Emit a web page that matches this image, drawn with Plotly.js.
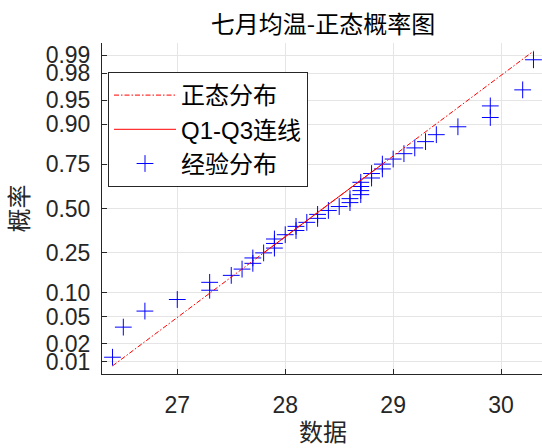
<!DOCTYPE html>
<html>
<head>
<meta charset="utf-8">
<script src="https://cdn.plot.ly/plotly-3.0.1.min.js"></script>
<style>
html,body{margin:0;padding:0;overflow:hidden;background:#fff;}
#chart{width:560px;height:448px;}
</style>
</head>
<body>
<div id="chart"></div>
<script>
// July mean temperatures (sample, sorted)
const tempData = [26.4, 26.5, 26.7, 27.0, 27.3, 27.3, 27.5, 27.6, 27.7, 27.7,
  27.8, 27.9, 27.9, 27.9, 28.0, 28.1, 28.1, 28.2, 28.3, 28.3,
  28.4, 28.5, 28.6, 28.6, 28.7, 28.7, 28.7, 28.7, 28.8, 28.8,
  28.9, 28.9, 29.0, 29.1, 29.2, 29.3, 29.4, 29.6, 29.9, 29.9,
  30.2, 30.3];
const probTicks = [0.01, 0.02, 0.05, 0.10, 0.25, 0.50, 0.75, 0.90, 0.95, 0.98, 0.99];
const probTickLabels = ['0.01', '0.02', '0.05', '0.10', '0.25', '0.50', '0.75', '0.90', '0.95', '0.98', '0.99'];
const xTicks = [27, 28, 29, 30];
const seriesNames = ['正态分布', 'Q1-Q3连线', '经验分布'];

// inverse standard normal CDF (probability axis transform)
function norminv(p){
  const a=[-3.969683028665376e+01,2.209460984245205e+02,-2.759285104469687e+02,1.383577518672690e+02,-3.066479806614716e+01,2.506628277459239e+00];
  const b=[-5.447609879822406e+01,1.615858368580409e+02,-1.556989798598866e+02,6.680131188771972e+01,-1.328068155288572e+01];
  const c=[-7.784894002430293e-03,-3.223964580411365e-01,-2.400758277161838e+00,-2.549732539343734e+00,4.374664141464968e+00,2.938163982698783e+00];
  const d=[7.784695709041462e-03,3.224671290700398e-01,2.445134137142996e+00,3.754408661907416e+00];
  const pl=0.02425, ph=1-pl;
  if(p<pl){const q=Math.sqrt(-2*Math.log(p));return (((((c[0]*q+c[1])*q+c[2])*q+c[3])*q+c[4])*q+c[5])/((((d[0]*q+d[1])*q+d[2])*q+d[3])*q+1);}
  if(p<=ph){const q=p-0.5,r=q*q;return (((((a[0]*r+a[1])*r+a[2])*r+a[3])*r+a[4])*r+a[5])*q/(((((b[0]*r+b[1])*r+b[2])*r+b[3])*r+b[4])*r+1);}
  const q=Math.sqrt(-2*Math.log(1-p));return -(((((c[0]*q+c[1])*q+c[2])*q+c[3])*q+c[4])*q+c[5])/((((d[0]*q+d[1])*q+d[2])*q+d[3])*q+1);
}

const xs = tempData.slice().sort((u,v)=>u-v);
const n = xs.length;
// empirical plotting positions (normplot convention)
const zs = xs.map((v,i)=>norminv((i+1-0.5)/n));

// MATLAB-style percentile
function prctile(arr, pct){
  const pos = n*pct/100 + 0.5;
  if(pos<=1) return arr[0];
  if(pos>=n) return arr[n-1];
  const lo = Math.floor(pos), f = pos-lo;
  return arr[lo-1] + f*(arr[lo]-arr[lo-1]);
}
const q1 = prctile(xs,25), q3 = prctile(xs,75);
const z1 = norminv(0.25), z3 = norminv(0.75);
const slope = (z3-z1)/(q3-q1);
const lineZ = x => z1 + slope*(x-q1);
const xmin = xs[0], xmax = xs[n-1];
const pad = 0.025*(xmax-xmin);
const yLim = [norminv(0.25/n), norminv(1-0.25/n)];

const fontLatin = 'Liberation Sans, Arial, Noto Sans CJK SC, sans-serif';
const fontCJK = 'Noto Sans CJK SC, sans-serif';

const traces = [
  {
    x: xs, y: zs, mode: 'markers', type: 'scatter', name: seriesNames[2], legendrank: 3,
    marker: {symbol: 'cross-thin-open', size: 12, line: {color: '#0000FF', width: 1}, color: '#0000FF'}
  },
  {
    x: [xmin, xmax], y: [lineZ(xmin), lineZ(xmax)], mode: 'lines', type: 'scatter', name: seriesNames[0], legendrank: 1,
    line: {color: '#FF0000', width: 1, dash: '5px,2px,1.5px,2px'}
  },
  {
    x: [q1, q3], y: [lineZ(q1), lineZ(q3)], mode: 'lines', type: 'scatter', name: seriesNames[1], legendrank: 2,
    line: {color: '#FF0000', width: 1}
  }
];

const layout = {
  width: 560, height: 448,
  margin: {l: 102, r: 16, t: 43, b: 74, pad: 0},
  paper_bgcolor: '#ffffff', plot_bgcolor: '#ffffff',
  font: {family: fontLatin, color: '#262626'},
  title: {text: '七月均温-正态概率图', font: {family: fontCJK, size: 24, color: '#000000'},
    x: 323/560, xref: 'container', xanchor: 'center', y: 1-25/448, yref: 'container', yanchor: 'middle'},
  xaxis: {
    range: [xmin-pad, xmax+pad], tickvals: xTicks, ticktext: xTicks.map(String),
    ticks: 'inside', ticklen: 5, tickcolor: '#262626', showline: true, linecolor: '#262626', linewidth: 1,
    showgrid: true, gridcolor: '#e5e5e5', gridwidth: 1, zeroline: false, mirror: false,
    tickfont: {size: 23, color: '#262626', family: fontLatin}, ticklabelstandoff: 10,
    title: {text: '数据', font: {family: fontCJK, size: 24, color: '#262626'}, standoff: 12}
  },
  yaxis: {
    range: yLim, tickvals: probTicks.map(norminv), ticktext: probTickLabels,
    ticks: 'inside', ticklen: 5, tickcolor: '#262626', showline: true, linecolor: '#262626', linewidth: 1,
    showgrid: true, gridcolor: '#e5e5e5', gridwidth: 1, zeroline: false, mirror: false,
    tickfont: {size: 23, color: '#262626', family: fontLatin}, ticklabelstandoff: 6,
    title: {text: '概率', font: {family: fontCJK, size: 24, color: '#262626'}, standoff: 10}
  },
  legend: {
    x: (108-102)/442, y: (374-72)/331, xanchor: 'left', yanchor: 'top',
    bgcolor: '#ffffff', bordercolor: '#262626', borderwidth: 1,
    font: {size: 24, color: '#000000', family: fontLatin}, itemwidth: 62, tracegroupgap: 0
  },
  showlegend: true
};

Plotly.newPlot('chart', traces, layout, {staticPlot: true, displayModeBar: false});
</script>
</body>
</html>
